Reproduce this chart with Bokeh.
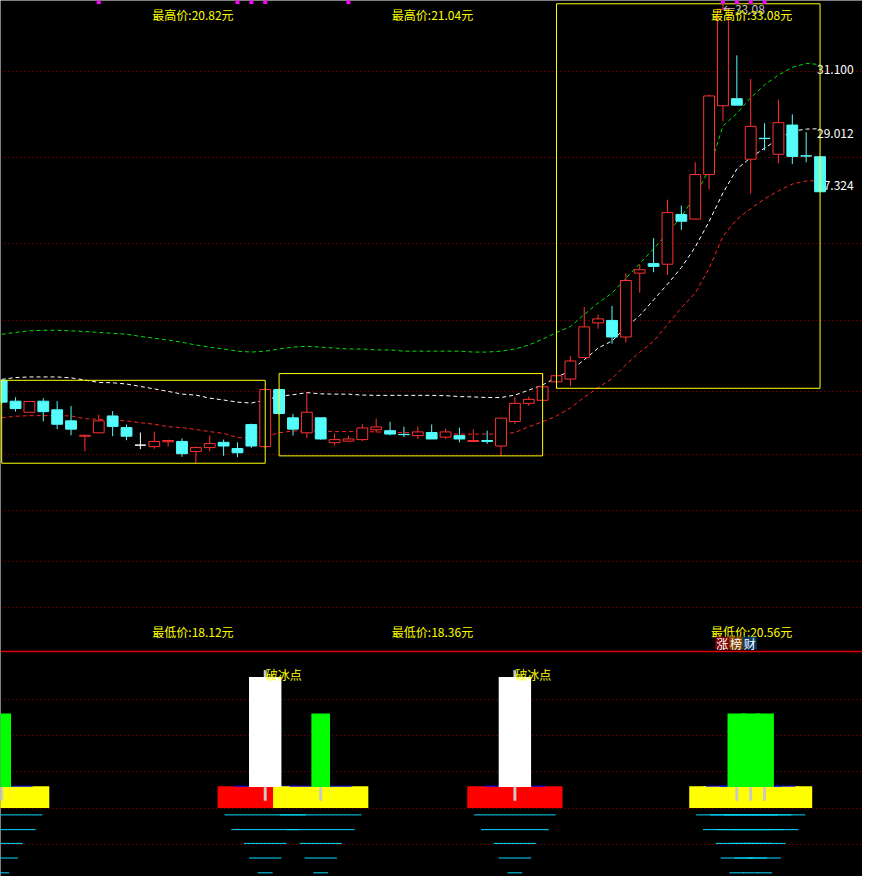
from bokeh.plotting import figure
from bokeh.models import Range1d
from bokeh.embed import file_html
from bokeh.resources import INLINE
from bokeh.core.properties import value

# ---------------- data ----------------
opens = [20.82, 20.14, 19.78, 20.14, 19.86, 19.50, 19.00, 19.11, 19.66, 19.28,
         18.71, 18.66, 18.82, 18.83, 18.50, 18.63, 18.80, 18.60, 19.38, 18.66,
         20.52, 19.60, 19.11, 19.60, 18.79, 18.84, 18.89, 19.21, 19.18, 19.06,
         19.02, 19.12, 18.97, 19.02, 18.83, 18.86, 18.68, 19.48, 20.07, 20.17,
         20.77, 20.86, 21.56, 22.69, 22.77, 22.23, 24.31, 24.62, 24.60, 26.22,
         26.07, 27.52, 29.76, 29.99, 28.02, 28.70, 28.18, 29.13, 28.13, 28.10]
highs = [20.82, 20.27, 20.13, 20.24, 20.14, 19.98, 19.05, 19.70, 19.82, 19.38,
         19.12, 19.15, 18.89, 18.93, 18.67, 19.02, 18.89, 18.80, 19.41, 20.55,
         20.55, 19.73, 20.42, 19.60, 19.09, 19.02, 19.40, 19.57, 19.47, 19.31,
         19.31, 19.38, 19.25, 19.28, 19.22, 19.18, 19.59, 20.27, 20.29, 21.04,
         20.99, 21.61, 23.21, 22.96, 23.24, 24.30, 24.59, 25.45, 26.70, 26.51,
         27.92, 30.12, 33.08, 31.40, 30.63, 29.19, 29.96, 29.48, 28.90, 28.10]
lows = [20.05, 19.80, 19.78, 19.48, 19.23, 19.03, 18.51, 19.11, 19.00, 18.87,
        18.58, 18.59, 18.66, 18.33, 18.12, 18.51, 18.36, 18.32, 18.62, 18.62,
        19.70, 19.02, 18.94, 18.89, 18.70, 18.84, 18.84, 19.12, 19.03, 18.97,
        18.91, 18.91, 18.91, 18.80, 18.83, 18.75, 18.36, 19.40, 19.99, 20.17,
        20.56, 20.63, 21.56, 22.50, 22.01, 22.05, 23.67, 24.34, 24.25, 25.72,
        26.07, 27.03, 29.25, 29.78, 26.90, 28.31, 27.89, 27.86, 27.92, 26.96]
closes = [20.11, 19.90, 20.13, 19.80, 19.39, 19.23, 19.03, 19.50, 19.32, 19.00,
          18.71, 18.83, 18.86, 18.43, 18.63, 18.76, 18.68, 18.46, 18.68, 20.52,
          19.74, 19.23, 19.78, 18.91, 18.89, 18.91, 19.27, 19.30, 19.07, 19.05,
          19.14, 18.91, 19.14, 18.91, 18.86, 18.83, 19.59, 20.07, 20.20, 20.61,
          20.97, 21.45, 22.56, 22.82, 22.23, 24.07, 24.42, 24.53, 26.28, 26.00,
          27.52, 30.08, 32.90, 29.78, 29.09, 28.69, 29.21, 28.11, 28.12, 26.96]

ma_upper = [22.32, 22.38, 22.43, 22.45, 22.45, 22.43, 22.41, 22.38, 22.35, 22.32,
            22.25, 22.19, 22.13, 22.06, 21.97, 21.90, 21.84, 21.77, 21.74, 21.77,
            21.84, 21.90, 21.93, 21.90, 21.87, 21.84, 21.84, 21.81, 21.81, 21.77,
            21.77, 21.77, 21.77, 21.77, 21.74, 21.74, 21.77, 21.84, 21.97, 22.16,
            22.38, 22.57, 22.96, 23.34, 23.66, 24.14, 24.62, 25.10, 25.61, 26.15,
            26.83, 27.69, 29.10, 29.51, 30.02, 30.44, 30.76, 31.01, 31.14, 31.100]
ma_mid = [20.85, 20.91, 20.93, 20.93, 20.93, 20.90, 20.83, 20.75, 20.74, 20.70,
          20.62, 20.54, 20.46, 20.37, 20.34, 20.24, 20.18, 20.11, 20.08, 20.18,
          20.30, 20.35, 20.42, 20.38, 20.37, 20.37, 20.34, 20.33, 20.33, 20.33,
          20.33, 20.33, 20.32, 20.29, 20.28, 20.26, 20.26, 20.34, 20.50, 20.67,
          20.91, 21.14, 21.49, 21.87, 22.10, 22.54, 22.93, 23.44, 23.95, 24.49,
          25.16, 25.99, 26.92, 27.70, 28.07, 28.38, 28.68, 28.93, 29.00, 29.012]
ma_lower = [19.60, 19.65, 19.67, 19.67, 19.67, 19.66, 19.57, 19.55, 19.52, 19.50,
            19.44, 19.39, 19.31, 19.28, 19.22, 19.15, 19.09, 18.96, 18.93, 18.99,
            19.11, 19.17, 19.18, 19.17, 19.15, 19.15, 19.15, 19.14, 19.12, 19.12,
            19.11, 19.09, 19.09, 19.07, 19.07, 19.07, 19.07, 19.12, 19.31, 19.47,
            19.66, 19.92, 20.27, 20.58, 20.88, 21.33, 21.74, 22.09, 22.64, 23.18,
            23.66, 24.46, 25.51, 26.06, 26.41, 26.73, 26.99, 27.21, 27.31, 27.324]

box_first = [0, 20, 40]
box_last = [19, 39, 59]
box_high = [20.82, 21.04, 33.08]
box_low = [18.12, 18.36, 20.56]

grid_prices = [13.42, 14.92, 16.59, 18.41, 20.45, 22.77, 25.28, 28.09, 30.89]
marker_bars = [7, 17, 18, 19, 25, 52, 53, 54, 55]
peak_bar = 52

green_signals = [0, 23, 53, 54, 55]
white_signals = [19, 37]
signal_label = "破冰点"
sub_grid = [60, 40, 20, 0, -20]
base_top = 12.1
green_top = 52.4
white_top = 72.5
badge_chars = ["涨", "榜", "财"]

# ---------------- layout / style constants ----------------
FONT = value("Noto Sans CJK SC")
W, H = 862, 876
H_TOP, H_BOT = 650, 226
X_LO, X_HI = -0.085, 62.06
Y_LO, Y_HI = 12.023, 33.187          # price range of the upper panel
B_LO, B_HI = -37.93, 87.24           # value range of the lower panel
Y_START = Y_HI - (Y_HI - Y_LO) * H / H_TOP
B_END = B_LO + (B_HI - B_LO) * H / H_BOT
BODY_W = 0.78
UP, DOWN, FLAT = "#FF3232", "#54FCFC", "#FFFFFF"
GRID_RED = "#A80000"
YELLOW = "#FFFF00"
title_x = [13.79, 31.06, 54.06]
title_hi_y = 32.74
title_lo_y = 12.63
label_x = 58.78

n = len(opens)
idx = list(range(n))
col = [UP if c > o else (DOWN if c < o else FLAT) for o, c in zip(opens, closes)]
fill = ["#000000" if c > o else k for o, c, k in zip(opens, closes, col)]
btop = [max(o, c) for o, c in zip(opens, closes)]
bbot = [min(o, c) for o, c in zip(opens, closes)]

p = figure(width=W, height=H, x_range=Range1d(X_LO, X_HI),
           y_range=Range1d(Y_START, Y_HI),
           output_backend="svg", toolbar_location=None,
           x_axis_location=None, y_axis_location=None,
           min_border=0, background_fill_color="#000000",
           border_fill_color="#000000", outline_line_color=None)
p.grid.grid_line_color = None
p.extra_y_ranges = {"sub": Range1d(B_LO, B_END)}

# ---------------- upper price panel ----------------
p.hspan(y=grid_prices, line_color=GRID_RED, line_dash="1 3", line_width=1)

p.line(idx, ma_upper, line_color="#00E000", line_dash="4 3", line_width=1)
p.line(idx, ma_mid, line_color="#FFFFFF", line_dash="4 3", line_width=1)
p.line(idx, ma_lower, line_color="#FF2222", line_dash="4 3", line_width=1)

last_vals = [ma_upper[-1], ma_mid[-1], ma_lower[-1]]
p.text(x=[label_x] * 3, y=last_vals, text=["%.3f" % v for v in last_vals],
       text_color="#FFFFFF", text_font=FONT, text_font_size="12px",
       text_align="left", text_baseline="top")

p.segment(x0=idx, y0=btop, x1=idx, y1=highs, line_color=col, line_width=1)
p.segment(x0=idx, y0=bbot, x1=idx, y1=lows, line_color=col, line_width=1)
p.vbar(x=idx, width=BODY_W, top=btop, bottom=bbot, fill_color=fill,
       line_color=col, line_width=1)

p.quad(left=box_first, right=box_last, top=box_high, bottom=box_low,
       fill_color=None, line_color=YELLOW, line_width=1)

p.scatter(x=marker_bars, y=[Y_HI - 0.05] * len(marker_bars), marker="square",
          size=4, fill_color="#FF00FF", line_color=None)

p.text(x=[peak_bar], y=[highs[peak_bar] - 0.14], text=["←%.2f" % highs[peak_bar]],
       text_color="#C0C0C0", text_font=FONT, text_font_size="12px",
       text_align="left", text_baseline="middle")

p.text(x=title_x, y=[title_hi_y] * 3, text=["最高价:%.2f元" % v for v in box_high],
       text_color=YELLOW, text_font=FONT, text_font_size="12px",
       text_align="center", text_baseline="middle")
p.text(x=title_x, y=[title_lo_y] * 3, text=["最低价:%.2f元" % v for v in box_low],
       text_color=YELLOW, text_font=FONT, text_font_size="12px",
       text_align="center", text_baseline="middle")

bx = [52 - 0.05 + k * 0.99 for k in range(len(badge_chars))]
p.rect(x=bx, y=[12.263] * 3, width=0.99, height=0.42,
       fill_color=["#7F0000", "#7F4000", "#0A3A6A"], line_color=None)
p.text(x=bx, y=[12.263] * 3, text=badge_chars, text_color="#FFFFFF",
       text_font=FONT, text_font_size="12px", text_align="center",
       text_baseline="middle")

# ---------------- lower indicator panel ----------------
S = "sub"
p.hspan(y=sub_grid, line_color=GRID_RED, line_dash="1 3", line_width=1, y_range_name=S)
p.hspan(y=[B_HI - 0.3], line_color="#E00000", line_width=1.6, y_range_name=S)

BASE_HW, BLUE_HW, WHITE_HW, GREEN_HW, TICK_HW = 3.433, 2.23, 1.168, 0.672, 0.106


def bases(sig, color):
    p.quad(left=[i - BASE_HW for i in sig], right=[i + BASE_HW for i in sig],
           bottom=[0] * len(sig), top=[base_top] * len(sig),
           fill_color=color, line_color=None, y_range_name=S)
    p.segment(x0=[i - BLUE_HW for i in sig], x1=[i + BLUE_HW for i in sig],
              y0=[base_top] * len(sig), y1=[base_top] * len(sig),
              line_color="#0000FF", line_width=1, y_range_name=S)


bases(white_signals, "#FF0000")
bases(green_signals, YELLOW)

p.quad(left=[i - WHITE_HW for i in white_signals], right=[i + WHITE_HW for i in white_signals],
       bottom=[11.6] * len(white_signals), top=[white_top] * len(white_signals),
       fill_color="#FFFFFF", line_color=None, y_range_name=S)
p.quad(left=[i - GREEN_HW for i in green_signals], right=[i + GREEN_HW for i in green_signals],
       bottom=[11.6] * len(green_signals), top=[green_top] * len(green_signals),
       fill_color="#00FF00", line_color=None, y_range_name=S)

all_sig = white_signals + green_signals
p.quad(left=[i - TICK_HW for i in all_sig], right=[i + TICK_HW for i in all_sig],
       bottom=[4.0] * len(all_sig), top=[11.6] * len(all_sig),
       fill_color="#C8C8C8", line_color=None, y_range_name=S)
p.quad(left=[i - TICK_HW for i in white_signals], right=[i + TICK_HW for i in white_signals],
       bottom=[white_top] * len(white_signals), top=[76.35] * len(white_signals),
       fill_color="#C8C8C8", line_color=None, y_range_name=S)

p.text(x=[i + 0.03 for i in white_signals], y=[73.8] * len(white_signals),
       text=[signal_label] * len(white_signals), text_color=YELLOW, text_font=FONT,
       text_font_size="12px", text_align="left", text_baseline="middle",
       y_range_name=S)

cy_levels = [-3.8, -11.97, -19.6, -27.7, -35.9]
cy_hw = [2.937, 2.442, 1.522, 1.168, 0.531]
x0s, x1s, ys = [], [], []
for i in all_sig:
    for lv, hw in zip(cy_levels, cy_hw):
        x0s.append(i - hw)
        x1s.append(i + hw)
        ys.append(lv)
p.segment(x0=x0s, x1=x1s, y0=ys, y1=ys, line_color="#00DDFF", line_width=1,
          y_range_name=S)

open("out.html", "w").write(file_html(p, INLINE))
